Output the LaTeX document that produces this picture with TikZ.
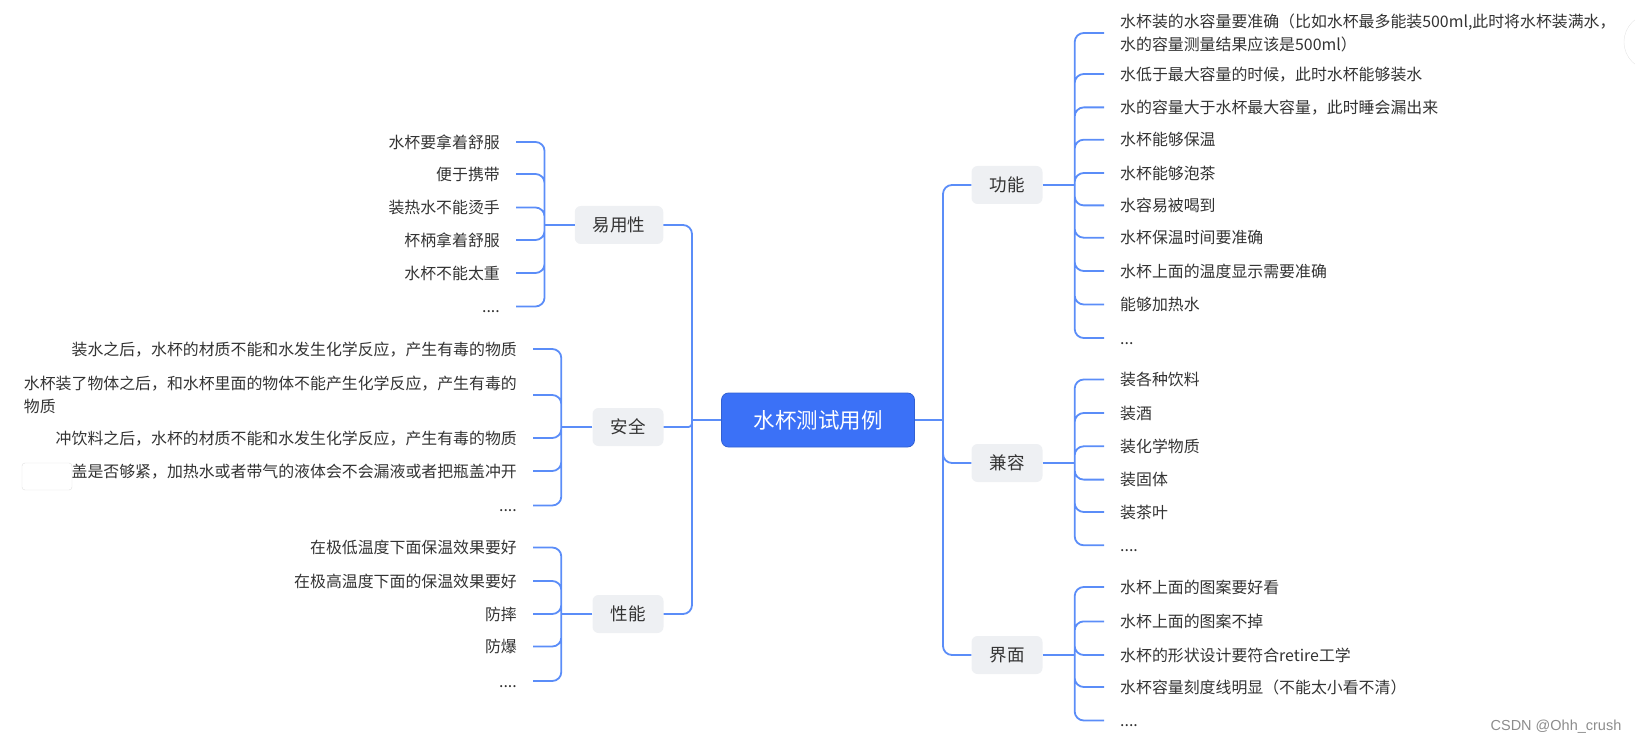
\documentclass[tikz,border=0pt]{standalone}
\usepackage{fontspec}
\setmainfont{Noto Sans CJK SC}
\newfontfamily\wmfont{Liberation Sans}
\usepackage{xcolor}
\definecolor{linkblue}{HTML}{5B8DF8}
\definecolor{rootblue}{HTML}{3B71F7}
\definecolor{branchgray}{HTML}{EEF0F3}
\definecolor{txtgray}{HTML}{333333}
\tikzset{
  link/.style={draw=linkblue, line width=1.8pt, rounded corners=9pt},
  rootbox/.style={fill=rootblue, draw=rootblue!85!black, line width=0.8pt, rounded corners=7pt,
    text=white, minimum width=193pt, minimum height=54pt, font=\fontsize{21.5}{25}\selectfont},
  branchbox/.style={fill=branchgray, rounded corners=6pt, text=txtgray, minimum height=38pt,
    inner xsep=18pt, font=\fontsize{17.5}{20}\selectfont},
  leafl/.style={anchor=east, inner xsep=16pt, inner ysep=0pt, text=txtgray, align=right,
    text height=14pt, text depth=1.9pt, font=\fontsize{15.9}{23.5}\selectfont},
  leafr/.style={leafl, anchor=west, align=left},
  twolines/.style={align=left, text height=, text depth=},
}
\begin{document}
\begin{tikzpicture}[x=1pt, y=-1pt]
      \useasboundingbox (0,0) rectangle (1635,743);
      % centre and branches
      \node[rootbox] (root) at (818,420) {水杯测试用例};
      \node[branchbox] (yyx) at (619,225) {易用性};
      \node[branchbox] (aq) at (628,427) {安全};
      \node[branchbox] (xn) at (628,614) {性能};
      \node[branchbox] (gn) at (1007,185) {功能};
      \node[branchbox] (jr) at (1007,463) {兼容};
      \node[branchbox] (jm) at (1007,655) {界面};
      % left leaves
      \node[leafl] (yyx1) at (516,142) {水杯要拿着舒服};
      \node[leafl] (yyx2) at (516,174) {便于携带};
      \node[leafl] (yyx3) at (516,207.5) {装热水不能烫手};
      \node[leafl] (yyx4) at (516,240) {杯柄拿着舒服};
      \node[leafl] (yyx5) at (516,273) {水杯不能太重};
      \node[leafl] (yyx6) at (516,306.5) {....};
      \node[leafl] (aq1) at (533,349) {装水之后，水杯的材质不能和水发生化学反应，产生有毒的物质};
      \node[leafl, twolines] (aq2) at (533,395) {水杯装了物体之后，和水杯里面的物体不能产生化学反应，产生有毒的\\物质};
      \node[leafl] (aq3) at (533,438) {冲饮料之后，水杯的材质不能和水发生化学反应，产生有毒的物质};
      \node[leafl] (aq4) at (533,471) {瓶盖是否够紧，加热水或者带气的液体会不会漏液或者把瓶盖冲开};
      \node[leafl] (aq5) at (533,505.5) {....};
      \node[leafl] (xn1) at (533,547.5) {在极低温度下面保温效果要好};
      \node[leafl] (xn2) at (533,581) {在极高温度下面的保温效果要好};
      \node[leafl] (xn3) at (533,614) {防摔};
      \node[leafl] (xn4) at (533,646.5) {防爆};
      \node[leafl] (xn5) at (533,681) {....};
      % right leaves
      \node[leafr, twolines] (gn1) at (1104,33) {水杯装的水容量要准确（比如水杯最多能装500ml,此时将水杯装满水，\\水的容量测量结果应该是500ml）};
      \node[leafr] (gn2) at (1104,74) {水低于最大容量的时候，此时水杯能够装水};
      \node[leafr] (gn3) at (1104,107.4) {水的容量大于水杯最大容量，此时睡会漏出来};
      \node[leafr] (gn4) at (1104,139.7) {水杯能够保温};
      \node[leafr] (gn5) at (1104,173) {水杯能够泡茶};
      \node[leafr] (gn6) at (1104,205.4) {水容易被喝到};
      \node[leafr] (gn7) at (1104,237.7) {水杯保温时间要准确};
      \node[leafr] (gn8) at (1104,271) {水杯上面的温度显示需要准确};
      \node[leafr] (gn9) at (1104,304.5) {能够加热水};
      \node[leafr] (gn10) at (1104,338) {...};
      \node[leafr] (jr1) at (1104,379.5) {装各种饮料};
      \node[leafr] (jr2) at (1104,413) {装酒};
      \node[leafr] (jr3) at (1104,446.3) {装化学物质};
      \node[leafr] (jr4) at (1104,479.6) {装固体};
      \node[leafr] (jr5) at (1104,512) {装茶叶};
      \node[leafr] (jr6) at (1104,545.3) {....};
      \node[leafr] (jm1) at (1104,587) {水杯上面的图案要好看};
      \node[leafr] (jm2) at (1104,621.4) {水杯上面的图案不掉};
      \node[leafr] (jm3) at (1104,655) {水杯的形状设计要符合retire工学};
      \node[leafr] (jm4) at (1104,687) {水杯容量刻度线明显（不能太小看不清）};
      \node[leafr] (jm5) at (1104,720.5) {....};
      % trunks
      \coordinate (lt) at (692,420);
      \coordinate (rt) at (943,420);
      \draw[link, sharp corners] (root.west) -- (lt) (root.east) -- (rt);
      \draw[link] (lt) |- (yyx.east) (lt) |- (xn.east);
      \draw[link, rounded corners=3.5pt] (lt) |- (aq.east);
      \draw[link] (rt) |- (gn.west) (rt) |- (jr.west) (rt) |- (jm.west);
      % brackets
      \draw[link, sharp corners] (yyx.west) -- ++(-30,0) coordinate (yyxb);
      \draw[link, sharp corners] (aq.west) -- ++(-31,0) coordinate (aqb);
      \draw[link, sharp corners] (xn.west) -- ++(-31,0) coordinate (xnb);
      \draw[link, sharp corners] (gn.east) -- ++(32,0) coordinate (gnb);
      \draw[link, sharp corners] (jr.east) -- ++(32,0) coordinate (jrb);
      \draw[link, sharp corners] (jm.east) -- ++(32,0) coordinate (jmb);
      \draw[link] (yyxb) |- (yyx1.east) (yyxb) |- (yyx2.east) (yyxb) |- (yyx3.east)
                  (yyxb) |- (yyx4.east) (yyxb) |- (yyx5.east) (yyxb) |- (yyx6.east);
      \draw[link] (aqb) |- (aq1.east) (aqb) |- (aq2.east) (aqb) |- (aq3.east)
                  (aqb) |- (aq4.east) (aqb) |- (aq5.east);
      \draw[link] (xnb) |- (xn1.east) (xnb) |- (xn2.east) (xnb) |- (xn3.east)
                  (xnb) |- (xn4.east) (xnb) |- (xn5.east);
      \draw[link] (gnb) |- (gn1.west) (gnb) |- (gn2.west) (gnb) |- (gn3.west)
                  (gnb) |- (gn4.west) (gnb) |- (gn5.west) (gnb) |- (gn6.west)
                  (gnb) |- (gn7.west) (gnb) |- (gn8.west) (gnb) |- (gn9.west)
                  (gnb) |- (gn10.west);
      \draw[link] (jrb) |- (jr1.west) (jrb) |- (jr2.west) (jrb) |- (jr3.west)
                  (jrb) |- (jr4.west) (jrb) |- (jr5.west) (jrb) |- (jr6.west);
      \draw[link] (jmb) |- (jm1.west) (jmb) |- (jm2.west) (jmb) |- (jm3.west)
                  (jmb) |- (jm4.west) (jmb) |- (jm5.west);
      % leftovers of the screenshot
      \filldraw[fill=white, draw=black!12, rounded corners=3pt] (22,463) rectangle (72,490);
      \draw[black!10] (1652,42) circle (28pt);
      \node[text=black!45, font=\wmfont\fontsize{14.5}{16}\selectfont] (wm) at (1556,727) {CSDN @Ohh\_crush};
\end{tikzpicture}
\end{document}
